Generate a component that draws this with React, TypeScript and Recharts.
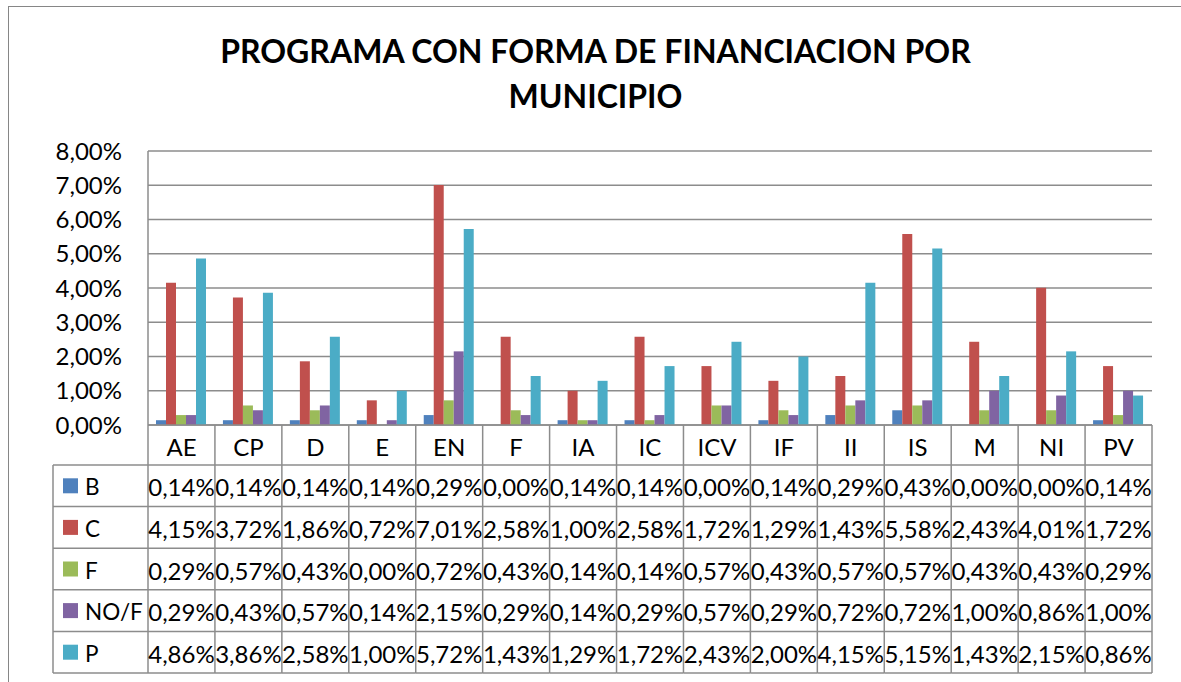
import React from 'react';
import { BarChart, Bar, XAxis, YAxis, CartesianGrid } from 'recharts';

const categories = ['AE', 'CP', 'D', 'E', 'EN', 'F', 'IA', 'IC', 'ICV', 'IF', 'II', 'IS', 'M', 'NI', 'PV'];
const seriesB = [0.14, 0.14, 0.14, 0.14, 0.29, 0.0, 0.14, 0.14, 0.0, 0.14, 0.29, 0.43, 0.0, 0.0, 0.14];
const seriesC = [4.15, 3.72, 1.86, 0.72, 7.01, 2.58, 1.0, 2.58, 1.72, 1.29, 1.43, 5.58, 2.43, 4.01, 1.72];
const seriesF = [0.29, 0.57, 0.43, 0.0, 0.72, 0.43, 0.14, 0.14, 0.57, 0.43, 0.57, 0.57, 0.43, 0.43, 0.29];
const seriesNOF = [0.29, 0.43, 0.57, 0.14, 2.15, 0.29, 0.14, 0.29, 0.57, 0.29, 0.72, 0.72, 1.0, 0.86, 1.0];
const seriesP = [4.86, 3.86, 2.58, 1.0, 5.72, 1.43, 1.29, 1.72, 2.43, 2.0, 4.15, 5.15, 1.43, 2.15, 0.86];
const seriesNames = ['B', 'C', 'F', 'NO/F', 'P'];
const seriesKeys = ['b', 'c', 'f', 'nof', 'p'];
const seriesValues = [seriesB, seriesC, seriesF, seriesNOF, seriesP];
const seriesColors = ['#4F81BD', '#C0504D', '#9BBB59', '#8064A2', '#4BACC6'];
const yTicks = [0, 1, 2, 3, 4, 5, 6, 7, 8];
const titleLines = ['PROGRAMA CON FORMA DE FINANCIACION POR', 'MUNICIPIO'];

const data = categories.map((name, i) => {
  const row: Record<string, any> = { name };
  seriesKeys.forEach((k, s) => {
    row[k] = seriesValues[s][i];
  });
  return row;
});

const W = 1181;
const H = 682;
const PLOT_L = 148;
const PLOT_R = 1152;
const PLOT_T = 151;
const PLOT_B = 425;
const HEAD_H = 40;
const ROW_H = 41.6;
const LEGEND_W = 95;
const LINE = '#8C8C8C';
const FONT = 'Lato, Carlito, Calibri, sans-serif';
const FS = 24;

const fmt = (v: number) => v.toFixed(2).replace('.', ',') + '%';

const TableTick = (props: any) => {
  const { x, payload } = props;
  const i: number = payload && payload.index != null ? payload.index : props.index;
  const w = (PLOT_R - PLOT_L) / categories.length;
  const left = x - w / 2;
  const right = x + w / 2;
  const bottom = PLOT_B + HEAD_H + ROW_H * seriesNames.length;
  const els: any[] = [];
  els.push(<line key="vl" x1={left} x2={left} y1={PLOT_B} y2={bottom} stroke={LINE} strokeWidth={1.5} />);
  if (i === categories.length - 1) {
    els.push(<line key="vr" x1={right} x2={right} y1={PLOT_B} y2={bottom} stroke={LINE} strokeWidth={1.5} />);
  }
  for (let r = 0; r <= seriesNames.length; r++) {
    const yy = PLOT_B + HEAD_H + r * ROW_H;
    els.push(<line key={'h' + r} x1={left} x2={right} y1={yy} y2={yy} stroke={LINE} strokeWidth={1.5} />);
  }
  els.push(
    <text key="cat" x={x} y={PLOT_B + HEAD_H / 2 + 1} textAnchor="middle" dominantBaseline="central" fontSize={FS} fontFamily={FONT} fill="#000">
      {categories[i]}
    </text>
  );
  seriesValues.forEach((vals, s) => {
    const cy = PLOT_B + HEAD_H + s * ROW_H + ROW_H / 2 + 1;
    els.push(
      <text key={'v' + s} x={x} y={cy} textAnchor="middle" dominantBaseline="central" fontSize={FS} fontFamily={FONT} fill="#000">
        {fmt(vals[i])}
      </text>
    );
  });
  if (i === 0) {
    const lx = left - LEGEND_W;
    els.push(<line key="lv" x1={lx} x2={lx} y1={PLOT_B + HEAD_H} y2={bottom} stroke={LINE} strokeWidth={1.5} />);
    for (let r = 0; r <= seriesNames.length; r++) {
      const yy = PLOT_B + HEAD_H + r * ROW_H;
      els.push(<line key={'lh' + r} x1={lx} x2={left} y1={yy} y2={yy} stroke={LINE} strokeWidth={1.5} />);
    }
    seriesNames.forEach((nm, s) => {
      const cy = PLOT_B + HEAD_H + s * ROW_H + ROW_H / 2;
      els.push(<rect key={'ls' + s} x={lx + 10} y={cy - 7.5} width={15} height={15} fill={seriesColors[s]} />);
      els.push(
        <text key={'lt' + s} x={lx + 32} y={cy + 1} dominantBaseline="central" fontSize={22.5} fontFamily={FONT} fill="#000">
          {nm}
        </text>
      );
    });
  }
  return <g>{els}</g>;
};

export default function App() {
  return (
    <div style={{ position: 'absolute', left: 0, top: 0, width: W, height: H, background: '#fff', overflow: 'hidden' }}>
      <svg width={W} height={H} style={{ position: 'absolute', left: 0, top: 0 }}>
        <rect x={8.5} y={6.5} width={W + 20} height={H + 20} fill="#fff" stroke="#868686" strokeWidth={1} />
        {titleLines.map((t, k) => (
          <text key={k} x={595.5} y={63 + k * 45} textAnchor="middle" fontSize={32} fontWeight="bold" fontFamily={FONT} fill="#000">
            {t}
          </text>
        ))}
      </svg>
      <div style={{ position: 'absolute', left: 0, top: 0 }}>
        <BarChart
          width={W}
          height={H}
          data={data}
          margin={{ top: PLOT_T, right: W - PLOT_R, bottom: 0, left: 0 }}
          barCategoryGap={8}
          barGap={0}
        >
          <CartesianGrid vertical={false} stroke={LINE} strokeWidth={1.5} />
          <YAxis
            width={PLOT_L}
            domain={[0, 8]}
            ticks={yTicks}
            interval={0}
            tickFormatter={fmt}
            tickLine={false}
            tickSize={0}
            tickMargin={26}
            axisLine={{ stroke: LINE, strokeWidth: 1.5 }}
            tick={{ fontSize: FS, fontFamily: FONT, fill: '#000' }}
          />
          <XAxis
            dataKey="name"
            height={H - PLOT_B}
            interval={0}
            tickLine={false}
            axisLine={{ stroke: LINE, strokeWidth: 1.5 }}
            tick={<TableTick />}
          />
          {seriesKeys.map((k, s) => (
            <Bar key={k} dataKey={k} name={seriesNames[s]} fill={seriesColors[s]} isAnimationActive={false} />
          ))}
        </BarChart>
      </div>
    </div>
  );
}
